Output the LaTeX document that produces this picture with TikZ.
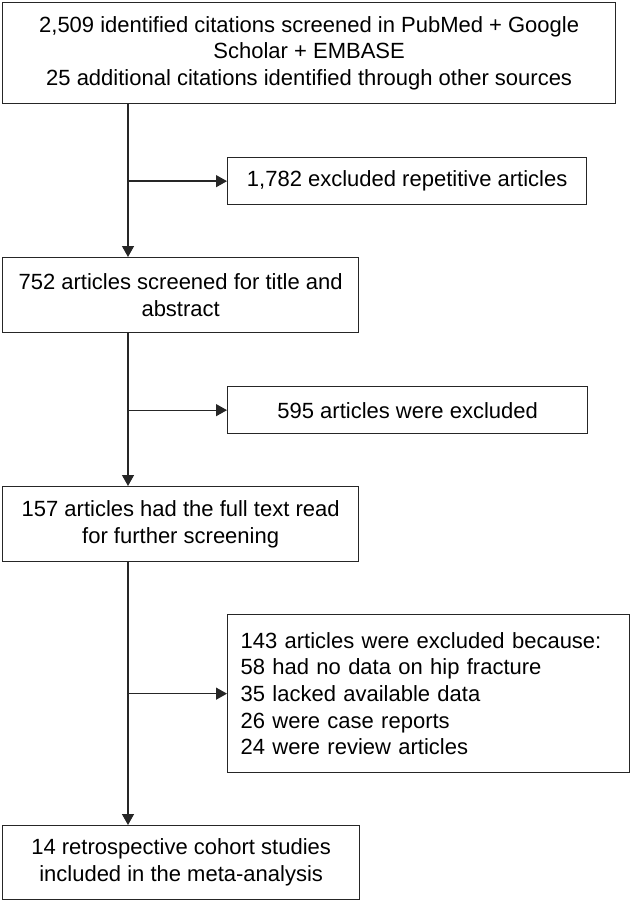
\documentclass[tikz,border=0pt]{standalone}
\usepackage{fontspec}
\setmainfont{Liberation Sans}
\usetikzlibrary{arrows.meta}
\begin{document}
\begin{tikzpicture}[x=1pt,y=-1pt,
  box/.style={draw=black!85, line width=1.3pt, anchor=north west, inner sep=0pt,
    font=\fontsize{22}{26.7}\selectfont, align=center},
  ln/.style={line width=1.3pt, draw=black!85},
  arr/.style={ln, -{Triangle[length=11pt,width=12pt]}}]
\useasboundingbox (0,0) rectangle (630,901);
\node[box, minimum width=613pt, minimum height=101pt] (top) at (2,2)
  {2,509 identified citations screened in PubMed + Google\\Scholar + EMBASE\\25 additional citations identified through other sources};
\node[box, minimum width=359pt, minimum height=47pt] (rep) at (227,157)
  {1,782 excluded repetitive articles};
\node[box, minimum width=356pt, minimum height=75pt] (scr) at (2,257)
  {752 articles screened for title and\\abstract};
\node[box, minimum width=360pt, minimum height=47pt] (exc1) at (227,386)
  {595 articles were excluded};
\node[box, minimum width=356pt, minimum height=75pt] (full) at (2,486)
  {157 articles had the full text read\\for further screening};
\node[box, align=left, inner xsep=13pt, text width=376pt, minimum height=158pt] (exc2) at (227,614)
  {143 articles were excluded because:\\58 had no data on hip fracture\\35 lacked available data\\26 were case reports\\24 were review articles};
\node[box, minimum width=357pt, minimum height=74pt] (incl) at (2,825)
  {14 retrospective cohort studies\\included in the meta-analysis};
\coordinate (vx) at (128,0);
\draw[arr] (top.south -| vx) -- (scr.north -| vx);
\draw[arr] (rep.west -| vx) -- (rep.west);
\draw[arr] (scr.south -| vx) -- (full.north -| vx);
\draw[arr] (exc1.west -| vx) -- (exc1.west);
\draw[arr] (full.south -| vx) -- (incl.north -| vx);
\draw[arr] (exc2.west -| vx) -- (exc2.west);
\end{tikzpicture}
\end{document}
